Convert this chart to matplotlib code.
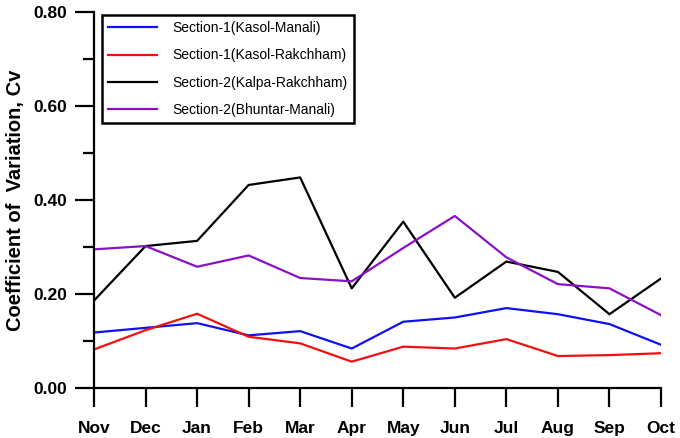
import matplotlib.pyplot as plt
from matplotlib.ticker import MultipleLocator

plt.rcParams['font.family'] = ['Liberation Sans', 'DejaVu Sans']

months = ['Nov', 'Dec', 'Jan', 'Feb', 'Mar', 'Apr', 'May', 'Jun', 'Jul', 'Aug', 'Sep', 'Oct']

# Cv values
kasol_manali = [0.118, 0.128, 0.138, 0.112, 0.121, 0.084, 0.141, 0.150, 0.170, 0.157, 0.136, 0.092]
kasol_rakchham = [0.082, 0.123, 0.158, 0.109, 0.095, 0.056, 0.088, 0.084, 0.104, 0.068, 0.070, 0.074]
kalpa_rakchham = [0.186, 0.302, 0.313, 0.432, 0.448, 0.212, 0.354, 0.192, 0.269, 0.247, 0.157, 0.233]
bhuntar_manali = [0.295, 0.302, 0.258, 0.282, 0.234, 0.227, 0.298, 0.366, 0.278, 0.221, 0.212, 0.155]

series = [
    ('Section-1(Kasol-Manali)', kasol_manali, '#1010f0'),
    ('Section-1(Kasol-Rakchham)', kasol_rakchham, '#f01010'),
    ('Section-2(Kalpa-Rakchham)', kalpa_rakchham, '#000000'),
    ('Section-2(Bhuntar-Manali)', bhuntar_manali, '#8a10c8'),
]

fig = plt.figure(figsize=(6.8, 4.38), dpi=100)
ax = fig.add_axes([94 / 680, 1 - 388 / 438, 567 / 680, 376 / 438])

x = list(range(len(months)))
for name, vals, col in series:
    ax.plot(x, vals, color=col, lw=1.6, label=name)

ax.set_xlim(0, len(months) - 1)
ax.set_ylim(0, 0.8)
ax.set_xticks(x)
ax.set_xticklabels(months, fontsize=12.5, fontweight='bold')
ax.yaxis.set_major_locator(MultipleLocator(0.2))
ax.yaxis.set_minor_locator(MultipleLocator(0.1))
ax.set_yticks([0, 0.2, 0.4, 0.6, 0.8])
ax.set_yticklabels(['0.00', '0.20', '0.40', '0.60', '0.80'], fontsize=12.5, fontweight='bold')

ax.spines['top'].set_visible(False)
ax.spines['right'].set_visible(False)
ax.spines['left'].set_linewidth(1.6)
ax.spines['bottom'].set_linewidth(1.6)
ax.tick_params(axis='x', direction='out', length=14, width=1.6, pad=10)
ax.tick_params(axis='y', which='major', direction='out', length=14, width=1.6, pad=5)
ax.tick_params(axis='y', which='minor', direction='out', length=8, width=1.6)

ax.set_ylabel('Coefficient of  Variation, Cv', fontsize=14.5, fontweight='bold', labelpad=6)

leg = ax.legend(loc='upper left', bbox_to_anchor=(8 / 567, 1 - 3 / 376), fontsize=10,
                frameon=True, fancybox=False, framealpha=1, handlelength=3.5, borderpad=0.45,
                labelspacing=0.95, handletextpad=1.1, borderaxespad=0)
leg.get_frame().set_edgecolor('black')
leg.get_frame().set_linewidth(1.8)

fig.savefig('out.png', dpi=100)
